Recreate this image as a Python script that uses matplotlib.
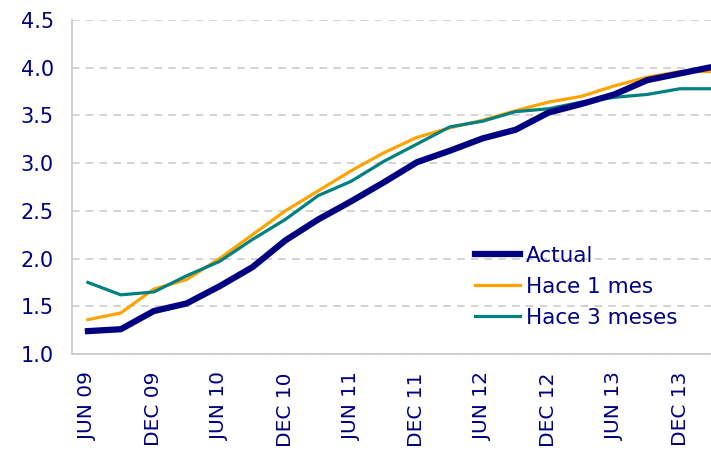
import matplotlib
matplotlib.use("Agg")
import matplotlib.pyplot as plt

# trimestres jun-09 .. mar-14
quarters = ["JUN 09", "SEP 09", "DEC 09", "MAR 10", "JUN 10", "SEP 10", "DEC 10", "MAR 11",
            "JUN 11", "SEP 11", "DEC 11", "MAR 12", "JUN 12", "SEP 12", "DEC 12", "MAR 13",
            "JUN 13", "SEP 13", "DEC 13", "MAR 14"]

actual = [1.24, 1.26, 1.45, 1.53, 1.71, 1.91, 2.19, 2.41, 2.60, 2.80,
          3.01, 3.13, 3.26, 3.35, 3.53, 3.62, 3.72, 3.87, 3.94, 4.01]
hace_1_mes = [1.36, 1.43, 1.68, 1.78, 2.00, 2.25, 2.50, 2.71, 2.92, 3.11,
              3.27, 3.37, 3.45, 3.55, 3.64, 3.70, 3.81, 3.90, 3.96, 3.96]
hace_3_meses = [1.75, 1.62, 1.65, 1.82, 1.97, 2.20, 2.41, 2.66, 2.81, 3.02,
                3.20, 3.38, 3.44, 3.54, 3.57, 3.64, 3.69, 3.72, 3.78, 3.78]

yticks = [1.0, 1.5, 2.0, 2.5, 3.0, 3.5, 4.0, 4.5]

navy = "#000080"
orange = "#FFA300"
teal = "#008080"
grey = "#c8c8c8"

fig = plt.figure(figsize=(7.11, 4.53), dpi=100)
ax = fig.add_axes([0.101, 0.2185, 0.899, 0.7373])

x = list(range(len(quarters)))
l2, = ax.plot(x, hace_1_mes, color=orange, lw=2.3, label="Hace 1 mes", zorder=3)
l3, = ax.plot(x, hace_3_meses, color=teal, lw=2.3, label="Hace 3 meses", zorder=4)
l1, = ax.plot(x, actual, color=navy, lw=4.5, label="Actual", zorder=5)

ax.set_xlim(-0.49, 18.94)
ax.set_ylim(1.0, 4.5)
ax.set_yticks(yticks)
ax.set_yticklabels([f"{v:.1f}" for v in yticks])
ax.set_xticks(x[::2])
ax.set_xticklabels(quarters[::2], rotation=90)

ax.tick_params(axis="y", length=0, pad=13, labelsize=15, labelcolor=navy)
ax.tick_params(axis="x", length=0, pad=13, labelsize=14.5, labelcolor=navy)

ax.yaxis.grid(True, color=grey, linestyle=(0, (5, 4)), lw=1.1)
ax.set_axisbelow(True)
for s in ["top", "right"]:
    ax.spines[s].set_visible(False)
for s in ["left", "bottom"]:
    ax.spines[s].set_color(grey)
    ax.spines[s].set_linewidth(1.2)

leg = ax.legend([l1, l2, l3], ["Actual", "Hace 1 mes", "Hace 3 meses"],
                loc="upper left", bbox_to_anchor=(475 / 711, 1 - 246 / 453),
                bbox_transform=fig.transFigure, frameon=False, fontsize=15.5,
                handlelength=2.1, handletextpad=0.25, labelspacing=0.5,
                borderpad=0, borderaxespad=0)
for t in leg.get_texts():
    t.set_color(navy)

fig.savefig("out.png", dpi=100)
